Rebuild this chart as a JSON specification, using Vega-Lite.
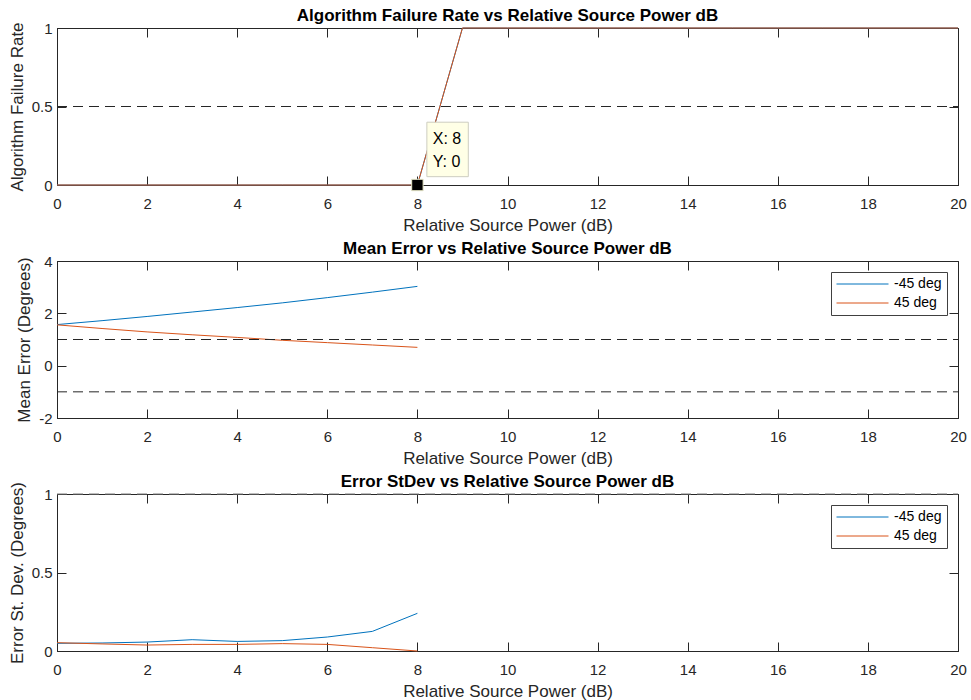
{
  "$schema": "https://vega.github.io/schema/vega-lite/v6.json",
  "padding": {"top": 6, "left": 7, "right": 5, "bottom": 2},
  "background": "white",
  "spacing": 5,
  "datasets": {
    "fail": [
      {"x": 0, "y": 0, "s": "-45 deg"}, {"x": 1, "y": 0, "s": "-45 deg"}, {"x": 2, "y": 0, "s": "-45 deg"}, {"x": 3, "y": 0, "s": "-45 deg"}, {"x": 4, "y": 0, "s": "-45 deg"}, {"x": 5, "y": 0, "s": "-45 deg"}, {"x": 6, "y": 0, "s": "-45 deg"}, {"x": 7, "y": 0, "s": "-45 deg"}, {"x": 8, "y": 0, "s": "-45 deg"}, {"x": 9, "y": 1, "s": "-45 deg"}, {"x": 10, "y": 1, "s": "-45 deg"}, {"x": 11, "y": 1, "s": "-45 deg"}, {"x": 12, "y": 1, "s": "-45 deg"}, {"x": 13, "y": 1, "s": "-45 deg"}, {"x": 14, "y": 1, "s": "-45 deg"}, {"x": 15, "y": 1, "s": "-45 deg"}, {"x": 16, "y": 1, "s": "-45 deg"}, {"x": 17, "y": 1, "s": "-45 deg"}, {"x": 18, "y": 1, "s": "-45 deg"}, {"x": 19, "y": 1, "s": "-45 deg"}, {"x": 20, "y": 1, "s": "-45 deg"},
      {"x": 0, "y": 0, "s": "45 deg"}, {"x": 1, "y": 0, "s": "45 deg"}, {"x": 2, "y": 0, "s": "45 deg"}, {"x": 3, "y": 0, "s": "45 deg"}, {"x": 4, "y": 0, "s": "45 deg"}, {"x": 5, "y": 0, "s": "45 deg"}, {"x": 6, "y": 0, "s": "45 deg"}, {"x": 7, "y": 0, "s": "45 deg"}, {"x": 8, "y": 0, "s": "45 deg"}, {"x": 9, "y": 1, "s": "45 deg"}, {"x": 10, "y": 1, "s": "45 deg"}, {"x": 11, "y": 1, "s": "45 deg"}, {"x": 12, "y": 1, "s": "45 deg"}, {"x": 13, "y": 1, "s": "45 deg"}, {"x": 14, "y": 1, "s": "45 deg"}, {"x": 15, "y": 1, "s": "45 deg"}, {"x": 16, "y": 1, "s": "45 deg"}, {"x": 17, "y": 1, "s": "45 deg"}, {"x": 18, "y": 1, "s": "45 deg"}, {"x": 19, "y": 1, "s": "45 deg"}, {"x": 20, "y": 1, "s": "45 deg"}
    ],
    "mean": [
      {"x": 0, "y": 1.57, "s": "-45 deg"}, {"x": 1, "y": 1.72, "s": "-45 deg"}, {"x": 2, "y": 1.88, "s": "-45 deg"}, {"x": 3, "y": 2.05, "s": "-45 deg"}, {"x": 4, "y": 2.22, "s": "-45 deg"}, {"x": 5, "y": 2.40, "s": "-45 deg"}, {"x": 6, "y": 2.60, "s": "-45 deg"}, {"x": 7, "y": 2.81, "s": "-45 deg"}, {"x": 8, "y": 3.03, "s": "-45 deg"},
      {"x": 0, "y": 1.56, "s": "45 deg"}, {"x": 1, "y": 1.42, "s": "45 deg"}, {"x": 2, "y": 1.29, "s": "45 deg"}, {"x": 3, "y": 1.18, "s": "45 deg"}, {"x": 4, "y": 1.08, "s": "45 deg"}, {"x": 5, "y": 0.97, "s": "45 deg"}, {"x": 6, "y": 0.88, "s": "45 deg"}, {"x": 7, "y": 0.79, "s": "45 deg"}, {"x": 8, "y": 0.70, "s": "45 deg"}
    ],
    "sd": [
      {"x": 0, "y": 0.049, "s": "-45 deg"}, {"x": 1, "y": 0.051, "s": "-45 deg"}, {"x": 2, "y": 0.057, "s": "-45 deg"}, {"x": 3, "y": 0.072, "s": "-45 deg"}, {"x": 4, "y": 0.061, "s": "-45 deg"}, {"x": 5, "y": 0.066, "s": "-45 deg"}, {"x": 6, "y": 0.089, "s": "-45 deg"}, {"x": 7, "y": 0.125, "s": "-45 deg"}, {"x": 8, "y": 0.24, "s": "-45 deg"},
      {"x": 0, "y": 0.053, "s": "45 deg"}, {"x": 1, "y": 0.045, "s": "45 deg"}, {"x": 2, "y": 0.038, "s": "45 deg"}, {"x": 3, "y": 0.042, "s": "45 deg"}, {"x": 4, "y": 0.042, "s": "45 deg"}, {"x": 5, "y": 0.047, "s": "45 deg"}, {"x": 6, "y": 0.042, "s": "45 deg"}, {"x": 7, "y": 0.021, "s": "45 deg"}, {"x": 8, "y": 0.0, "s": "45 deg"}
    ],
    "tipbox": [{"x1": 8.21, "x2": 9.13, "y1": 0.053, "y2": 0.4}],
    "tiptext": [{"x": 8.34, "y": 0.291, "t": "X: 8"}, {"x": 8.34, "y": 0.148, "t": "Y: 0"}],
    "tippoint": [{"x": 8, "y": 0}]
  },
  "resolve": {"scale": {"color": "independent"}, "legend": {"color": "independent"}},
  "vconcat": [
    {
      "width": 901, "height": 157,
      "title": {"text": "Algorithm Failure Rate vs Relative Source Power dB", "frame": "group", "offset": -4},
      "resolve": {"axis": {"x": "independent", "y": "independent"}},
      "layer": [
        {
          "data": {"name": "fail"},
          "mark": {"type": "line", "strokeWidth": 1},
          "encoding": {
            "x": {"field": "x", "type": "quantitative", "scale": {"domain": [0, 20], "nice": false}, "axis": {"orient": "bottom", "values": [0,2,4,6,8,10,12,14,16,18,20], "title": "Relative Source Power (dB)"}},
            "y": {"field": "y", "type": "quantitative", "scale": {"domain": [0, 1], "nice": false}, "axis": {"orient": "left", "values": [0, 0.5, 1], "title": "Algorithm Failure Rate"}},
            "color": {"field": "s", "type": "nominal", "scale": {"domain": ["-45 deg", "45 deg"], "range": ["#0072BD", "#D95319"]}, "legend": null}
          }
        },
        {
          "data": {"values": [{"y": 0.5}]},
          "mark": {"type": "rule", "strokeDash": [10, 6], "strokeWidth": 1, "color": "#262626"},
          "encoding": {
            "x": {"datum": 0, "type": "quantitative", "axis": {"orient": "top", "labels": false, "title": null, "domain": false, "minExtent": 0, "maxExtent": 0, "values": [0,2,4,6,8,10,12,14,16,18,20]}},
            "x2": {"datum": 20},
            "y": {"field": "y", "type": "quantitative", "axis": {"orient": "right", "labels": false, "title": null, "domain": false, "minExtent": 0, "maxExtent": 0, "values": [0, 0.5, 1]}}
          }
        },
        {
          "data": {"name": "tipbox"},
          "mark": {"type": "rect", "fill": "#FFFFE6", "stroke": "#CDCDC0", "strokeWidth": 1},
          "encoding": {
            "x": {"field": "x1", "type": "quantitative", "axis": null},
            "x2": {"field": "x2"},
            "y": {"field": "y1", "type": "quantitative", "axis": null},
            "y2": {"field": "y2"}
          }
        },
        {
          "data": {"name": "tiptext"},
          "mark": {"type": "text", "align": "left", "baseline": "middle", "fontSize": 16, "color": "#000000", "font": "Liberation Sans"},
          "encoding": {
            "x": {"field": "x", "type": "quantitative", "axis": null},
            "y": {"field": "y", "type": "quantitative", "axis": null},
            "text": {"field": "t"}
          }
        },
        {
          "data": {"name": "tippoint"},
          "mark": {"type": "point", "shape": "square", "filled": true, "size": 130, "color": "#000000", "stroke": "#E8E8C8", "strokeWidth": 1, "opacity": 1},
          "encoding": {
            "x": {"field": "x", "type": "quantitative", "axis": null},
            "y": {"field": "y", "type": "quantitative", "axis": null}
          }
        }
      ]
    },
    {
      "width": 901, "height": 157,
      "title": {"text": "Mean Error vs Relative Source Power dB", "frame": "group", "offset": -4},
      "resolve": {"axis": {"x": "independent", "y": "independent"}},
      "layer": [
        {
          "data": {"name": "mean"},
          "mark": {"type": "line", "strokeWidth": 1},
          "encoding": {
            "x": {"field": "x", "type": "quantitative", "scale": {"domain": [0, 20], "nice": false}, "axis": {"orient": "bottom", "values": [0,2,4,6,8,10,12,14,16,18,20], "title": "Relative Source Power (dB)"}},
            "y": {"field": "y", "type": "quantitative", "scale": {"domain": [-2, 4], "nice": false}, "axis": {"orient": "left", "values": [-2, 0, 2, 4], "title": "Mean Error (Degrees)"}},
            "color": {"field": "s", "type": "nominal", "scale": {"domain": ["-45 deg", "45 deg"], "range": ["#0072BD", "#D95319"]}, "legend": {"title": null}}
          }
        },
        {
          "data": {"values": [{"y": 1}, {"y": -1}]},
          "mark": {"type": "rule", "strokeDash": [10, 6], "strokeWidth": 1, "color": "#262626"},
          "encoding": {
            "x": {"datum": 0, "type": "quantitative", "axis": {"orient": "top", "labels": false, "title": null, "domain": false, "minExtent": 0, "maxExtent": 0, "values": [0,2,4,6,8,10,12,14,16,18,20]}},
            "x2": {"datum": 20},
            "y": {"field": "y", "type": "quantitative", "axis": {"orient": "right", "labels": false, "title": null, "domain": false, "minExtent": 0, "maxExtent": 0, "values": [-2, 0, 2, 4]}}
          }
        }
      ]
    },
    {
      "width": 901, "height": 157,
      "title": {"text": "Error StDev vs Relative Source Power dB", "frame": "group", "offset": -10},
      "resolve": {"axis": {"x": "independent", "y": "independent"}},
      "layer": [
        {
          "data": {"name": "sd"},
          "mark": {"type": "line", "strokeWidth": 1},
          "encoding": {
            "x": {"field": "x", "type": "quantitative", "scale": {"domain": [0, 20], "nice": false}, "axis": {"orient": "bottom", "values": [0,2,4,6,8,10,12,14,16,18,20], "title": "Relative Source Power (dB)"}},
            "y": {"field": "y", "type": "quantitative", "scale": {"domain": [0, 1], "nice": false}, "axis": {"orient": "left", "values": [0, 0.5, 1], "title": "Error St. Dev. (Degrees)"}},
            "color": {"field": "s", "type": "nominal", "scale": {"domain": ["-45 deg", "45 deg"], "range": ["#0072BD", "#D95319"]}, "legend": {"title": null}}
          }
        },
        {
          "data": {"values": [{"y": 1}]},
          "mark": {"type": "rule", "strokeDash": [10, 6], "strokeWidth": 1, "color": "#7a7a7a"},
          "encoding": {
            "x": {"datum": 0, "type": "quantitative", "axis": {"orient": "top", "labels": false, "title": null, "domain": false, "minExtent": 0, "maxExtent": 0, "values": [0,2,4,6,8,10,12,14,16,18,20]}},
            "x2": {"datum": 20},
            "y": {"field": "y", "type": "quantitative", "axis": {"orient": "right", "labels": false, "title": null, "domain": false, "minExtent": 0, "maxExtent": 0, "values": [0, 0.5, 1]}}
          }
        }
      ]
    }
  ],
  "config": {
    "font": "Liberation Sans",
    "view": {"stroke": "#262626", "strokeWidth": 1},
    "axis": {
      "grid": false,
      "domainColor": "#262626",
      "tickColor": "#262626",
      "labelColor": "#262626",
      "titleColor": "#262626",
      "labelFontSize": 15,
      "titleFontSize": 17,
      "titleFontWeight": "normal",
      "tickSize": -9,
      "labelFont": "Liberation Sans",
      "titleFont": "Liberation Sans",
      "labelExpr": "'' + datum.value"
    },
    "axisX": {"labelPadding": 20, "titlePadding": 6, "labelFlush": false},
    "axisY": {"labelPadding": 14, "titlePadding": 5, "labelFlush": false},
    "title": {"fontSize": 17, "fontWeight": "bold", "color": "#000000", "anchor": "middle", "font": "Liberation Sans"},
    "legend": {
      "orient": "top-right",
      "offset": 11,
      "padding": 5,
      "strokeColor": "#404040",
      "fillColor": "#FFFFFF",
      "symbolType": "stroke",
      "symbolSize": 2704,
      "clipHeight": 14,
      "symbolStrokeWidth": 1,
      "labelFontSize": 14,
      "labelColor": "#000000",
      "labelFont": "Liberation Sans",
      "labelOffset": 5,
      "rowPadding": 5
    }
  }
}
